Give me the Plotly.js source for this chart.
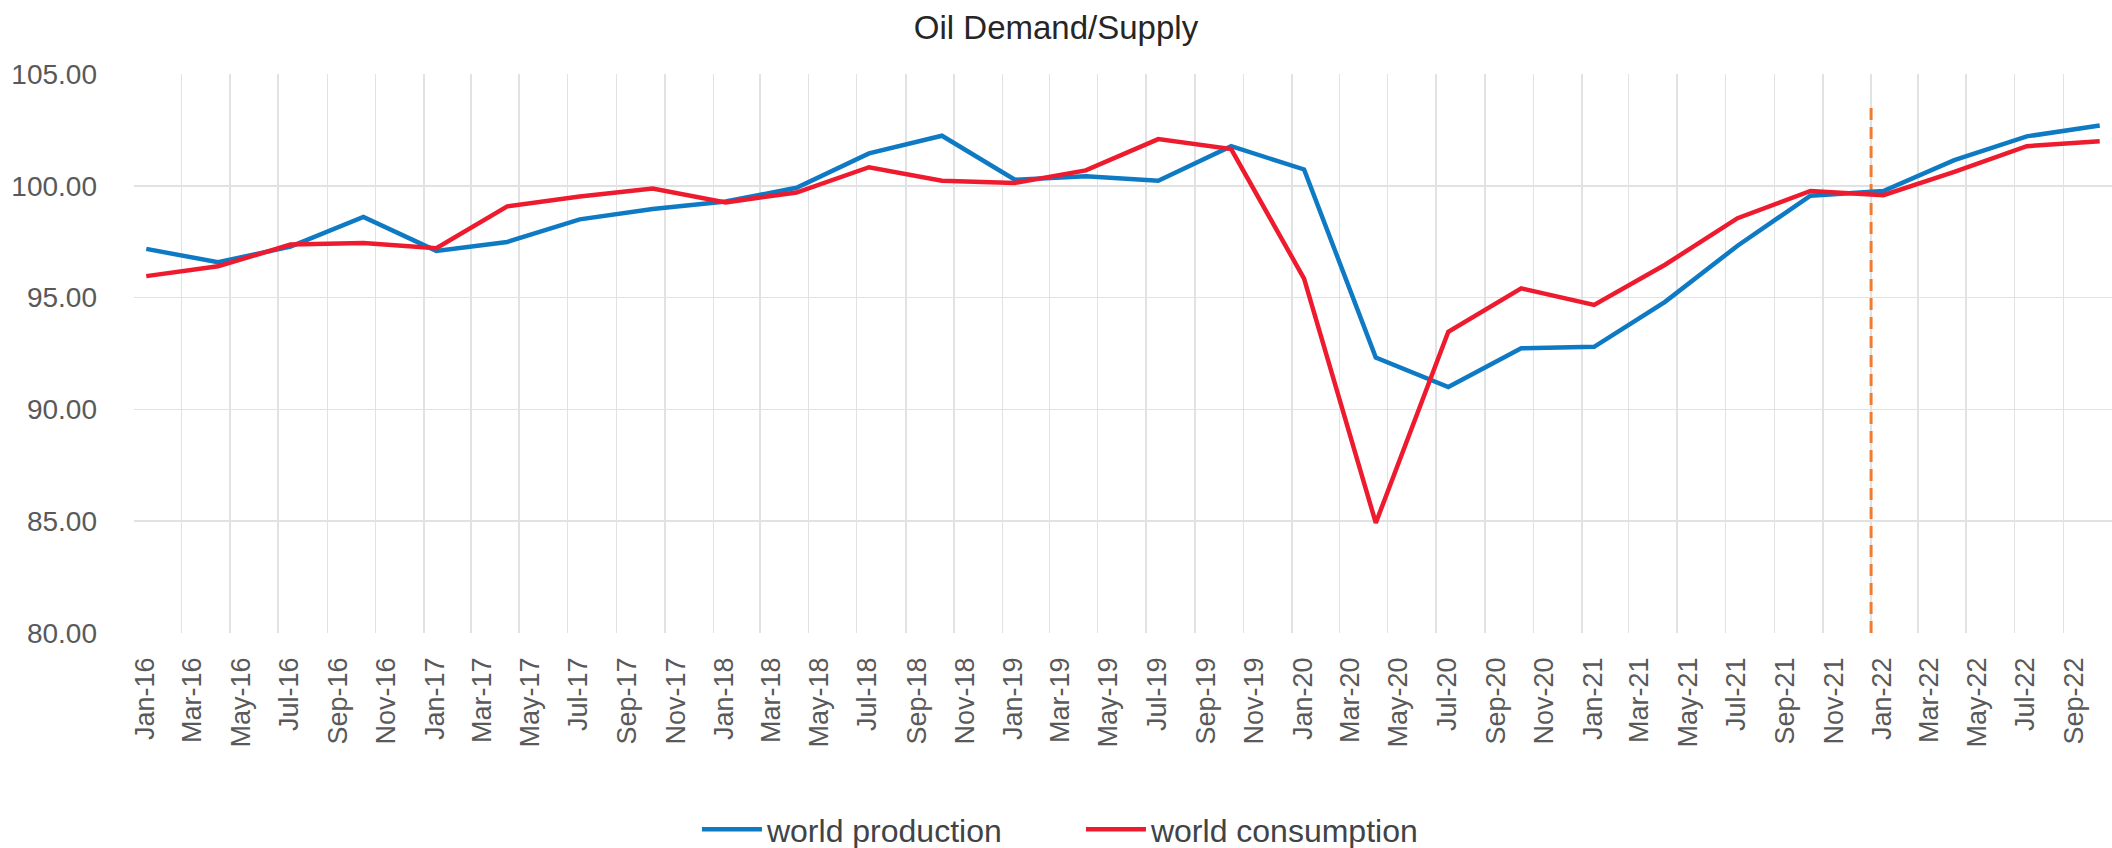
<!DOCTYPE html>
<html>
<head>
<meta charset="utf-8">
<script src="https://cdn.plot.ly/plotly-3.0.1.min.js"></script>
<style>
  html, body { margin: 0; padding: 0; background: #fff; }
  #chart { width: 2112px; height: 848px; }
</style>
</head>
<body>
<div id="chart"></div>
<script>
// Quarterly observation months
const months = [
  "2016-01", "2016-04", "2016-07", "2016-10",
  "2017-01", "2017-04", "2017-07", "2017-10",
  "2018-01", "2018-04", "2018-07", "2018-10",
  "2019-01", "2019-04", "2019-07", "2019-10",
  "2020-01", "2020-04", "2020-07", "2020-10",
  "2021-01", "2021-04", "2021-07", "2021-10",
  "2022-01", "2022-04", "2022-07", "2022-10"
];

const worldProduction = [
  97.18, 96.58, 97.28, 98.61,
  97.09, 97.49, 98.50, 98.96,
  99.30, 99.91, 101.45, 102.24,
  100.27, 100.43, 100.23, 101.77,
  100.73, 92.32, 91.00, 92.73,
  92.80, 94.81, 97.32, 99.56,
  99.77, 101.15, 102.21, 102.70
];

const worldConsumption = [
  95.96, 96.40, 97.37, 97.44,
  97.21, 99.08, 99.52, 99.88,
  99.26, 99.70, 100.83, 100.23,
  100.13, 100.69, 102.09, 101.64,
  95.85, 84.92, 93.47, 95.41,
  94.67, 96.47, 98.55, 99.77,
  99.58, 100.62, 101.77, 101.99
];

const seriesNames = ["world production", "world consumption"];
const forecastStart = "2022-01-01";
const forecastLineTop = 103.5;
const axisStart = "2016-01-01";
const axisEnd = "2022-11-01";
const yMin = 80, yMax = 105;

const FONT = "'Liberation Sans', Arial, sans-serif";

const traces = [
  {
    x: months, y: worldProduction, name: seriesNames[0],
    type: "scatter", mode: "lines",
    xperiod: "M1", xperiodalignment: "middle",
    line: { color: "#0E7AC4", width: 4.5 }
  },
  {
    x: months, y: worldConsumption, name: seriesNames[1],
    type: "scatter", mode: "lines",
    xperiod: "M1", xperiodalignment: "middle",
    line: { color: "#EE1B2F", width: 4.5 }
  }
];

const layout = {
  width: 2112, height: 848,
  paper_bgcolor: "#ffffff", plot_bgcolor: "#ffffff",
  margin: { l: 134, r: 0, t: 74, b: 215 },
  font: { family: FONT, color: "#595959" },
  title: {
    text: "Oil Demand/Supply",
    font: { family: FONT, size: 33, color: "#262626" },
    x: 0.5, xref: "container", xanchor: "center",
    y: 0.968, yref: "container", yanchor: "middle"
  },
  xaxis: {
    type: "date",
    range: [axisStart, axisEnd],
    tickmode: "linear", tick0: axisStart, dtick: "M2",
    tickformat: "%b-%y",
    tickangle: -90,
    ticks: "", ticklen: 0,
    ticklabelshift: 11,
    ticklabelstandoff: 18,
    showgrid: true, gridcolor: "#E0E2E4", gridwidth: 1.5,
    showline: false, zeroline: false,
    tickfont: { family: FONT, size: 27, color: "#595959" },
    fixedrange: true
  },
  yaxis: {
    range: [yMin, yMax],
    tickmode: "linear", tick0: yMin, dtick: 5,
    tickformat: ".2f",
    ticks: "", ticklen: 0,
    ticklabelstandoff: 36,
    showgrid: true, gridcolor: "#E0E2E4", gridwidth: 1.5,
    showline: false, zeroline: false,
    tickfont: { family: FONT, size: 28, color: "#595959" },
    fixedrange: true
  },
  showlegend: true,
  legend: {
    orientation: "h",
    x: 0.330, xref: "container", xanchor: "left",
    y: 0.022, yref: "container", yanchor: "middle",
    font: { family: FONT, size: 32, color: "#404448" },
    itemwidth: 60,
    entrywidth: 309, entrywidthmode: "pixels",
    bgcolor: "rgba(0,0,0,0)"
  },
  shapes: [
    {
      type: "line", xref: "x", yref: "y", layer: "between",
      x0: forecastStart, x1: forecastStart, y0: yMin, y1: forecastLineTop,
      line: { color: "#ED7D31", width: 3, dash: "12px,7px" }
    }
  ]
};

Plotly.newPlot("chart", traces, layout, { displayModeBar: false, staticPlot: true });
</script>
</body>
</html>
